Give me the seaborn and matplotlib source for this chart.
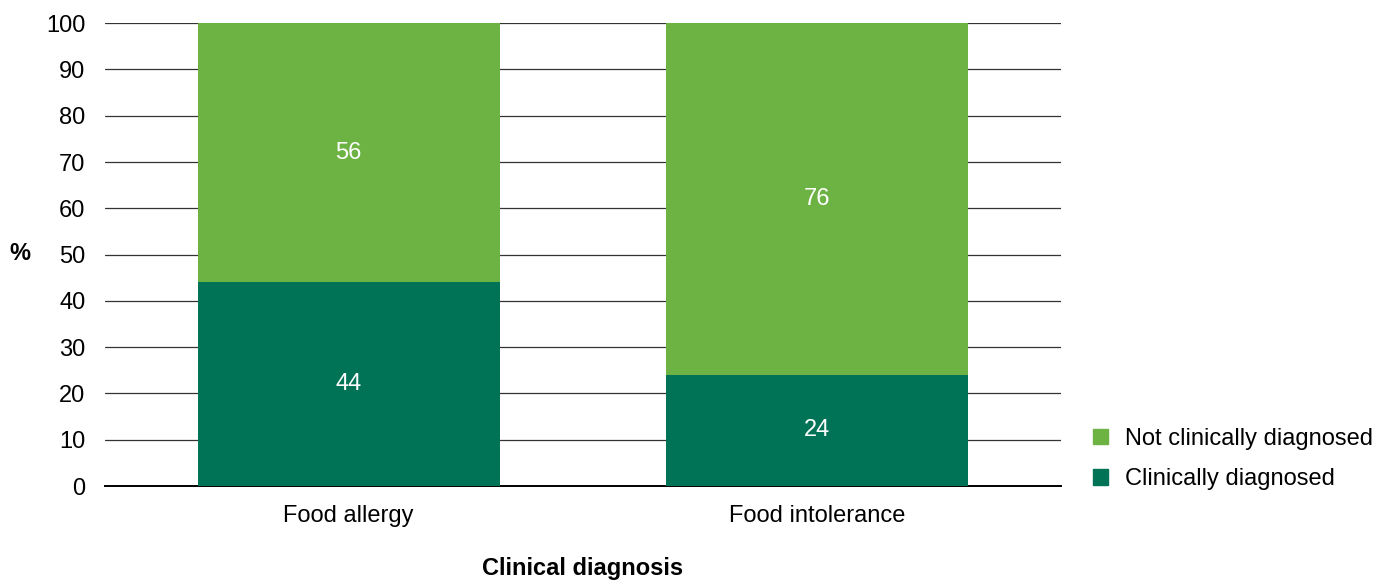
import matplotlib
matplotlib.use("Agg")
import matplotlib.pyplot as plt
import seaborn as sns
import pandas as pd
from matplotlib.patches import Patch

# data
categories = ["Food allergy", "Food intolerance"]
diagnosed = [44, 24]
not_diagnosed = [56, 76]

light_green = "#6db344"
dark_green = "#007256"

sns.set_theme(style="white")
plt.rcParams['font.family'] = ['Liberation Sans', 'DejaVu Sans']
plt.rcParams['text.color'] = 'black'

df = pd.DataFrame({"category": categories,
                   "diagnosed": diagnosed,
                   "not_diagnosed": not_diagnosed})
df["total"] = df["diagnosed"] + df["not_diagnosed"]

fs = 17

fig = plt.figure(figsize=(13.91, 5.8), dpi=100)
ax = fig.add_axes([0.0755, 0.162, 0.687, 0.798])

# stacked bars: draw total first, then the bottom segment on top
sns.barplot(data=df, x="category", y="total", color=light_green, width=0.645,
            saturation=1, linewidth=0, ax=ax, zorder=3)
sns.barplot(data=df, x="category", y="diagnosed", color=dark_green, width=0.645,
            saturation=1, linewidth=0, ax=ax, zorder=3)

for i, (d, n) in enumerate(zip(diagnosed, not_diagnosed)):
    ax.text(i, d / 2, str(d), color="white", ha="center", va="center", fontsize=fs, zorder=4)
    ax.text(i, d + n / 2, str(n), color="white", ha="center", va="center", fontsize=fs, zorder=4)

ax.set_xlim(-0.52, 1.52)
ax.set_ylim(0, 100)
ax.set_yticks(range(0, 101, 10))
ax.yaxis.grid(True, color="#333333", linewidth=0.9, zorder=0)
ax.set_axisbelow(True)
for s in ["top", "right", "left"]:
    ax.spines[s].set_visible(False)
ax.spines["bottom"].set_color("black")
ax.spines["bottom"].set_linewidth(1.4)
ax.tick_params(axis="y", length=0, pad=14, labelsize=fs, colors="black")
ax.tick_params(axis="x", length=0, pad=14, labelsize=fs, colors="black")

ax.set_xlabel("Clinical diagnosis", fontsize=fs, fontweight="bold", labelpad=21, color="black")
ax.set_ylabel("")
fig.text(20 / 1391, 1 - 254 / 580, "%", fontsize=fs, fontweight="bold",
         ha="center", va="center", color="black")

handles = [Patch(color=light_green, label="Not clinically diagnosed"),
           Patch(color=dark_green, label="Clinically diagnosed")]
fig.legend(handles=handles, loc="center left", bbox_to_anchor=(1072 / 1391, 1 - 459 / 580),
           frameon=False, fontsize=fs, handlelength=0.63, handleheight=0.63,
           handletextpad=0.72, labelspacing=0.78, labelcolor="black")

fig.savefig("out.png", dpi=100)
